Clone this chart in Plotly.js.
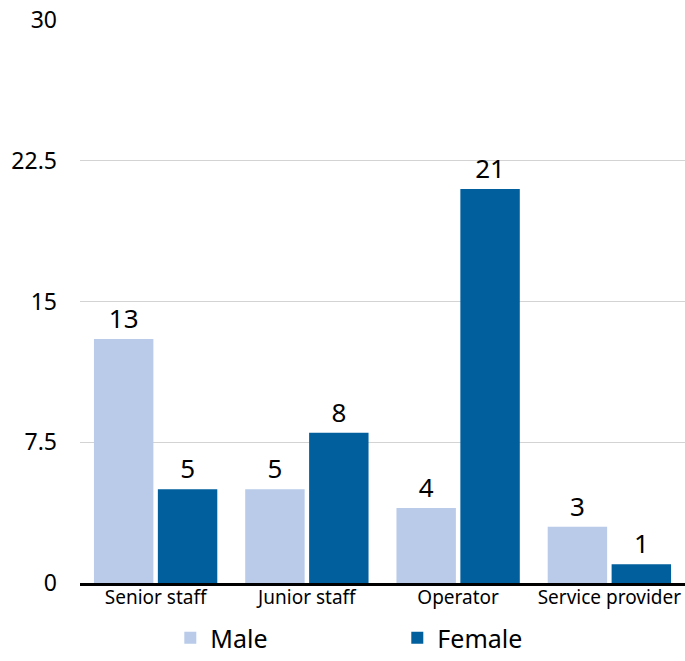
<!DOCTYPE html>
<html>
<head>
<meta charset="utf-8">
<script src="https://cdn.plot.ly/plotly-3.0.1.min.js"></script>
<style>html,body{margin:0;padding:0;background:#fff;}#chart{width:685px;height:661px;}</style>
</head>
<body>
<div id="chart"></div>
<script>
const categories = ["Senior staff", "Junior staff", "Operator", "Service provider"];
const maleValues = [13, 5, 4, 3];
const femaleValues = [5, 8, 21, 1];
const yTicks = [0, 7.5, 15, 22.5, 30];
const seriesNames = ["Male", "Female"];

const FONT = "Noto Sans, Open Sans, sans-serif";
const traces = [
  {type: "bar", name: seriesNames[0], x: categories, y: maleValues,
   marker: {color: "#b9cbe9"}, text: maleValues.map(String), textposition: "outside",
   textfont: {size: 26, color: "#000", family: FONT}, cliponaxis: false, hoverinfo: "none"},
  {type: "bar", name: seriesNames[1], x: categories, y: femaleValues,
   marker: {color: "#005f9c"}, text: femaleValues.map(String), textposition: "outside",
   textfont: {size: 26, color: "#000", family: FONT}, cliponaxis: false, hoverinfo: "none"}
];
const layout = {
  width: 685, height: 661,
  margin: {l: 80, r: 0, t: 20, b: 78},
  paper_bgcolor: "#fff", plot_bgcolor: "#fff",
  font: {family: FONT, color: "#000"},
  barmode: "group", bargap: 0.155, bargroupgap: 0.07,
  showlegend: true,
  legend: {orientation: "h", xref: "container", yref: "container", x: 0.58, xanchor: "center",
           y: -0.009, yanchor: "bottom", borderwidth: 0,
           font: {size: 25, color: "#000", family: FONT}, entrywidth: 182, traceorder: "normal"},
  xaxis: {showgrid: false, showline: true, linecolor: "#000", linewidth: 3, ticks: "",
          automargin: false, ticklabelstandoff: -5,
          tickfont: {size: 19, color: "#000", family: FONT}, zeroline: false},
  yaxis: {range: [0, 30], tickvals: yTicks, ticktext: yTicks.map(String), showgrid: true,
          automargin: false, gridcolor: "#d3d3d3", gridwidth: 1, zeroline: false, showline: false, ticks: "",
          ticklabelstandoff: 22, tickfont: {size: 23, color: "#000", family: FONT}}
};
Plotly.newPlot("chart", traces, layout, {staticPlot: true, displayModeBar: false});
</script>
</body>
</html>
